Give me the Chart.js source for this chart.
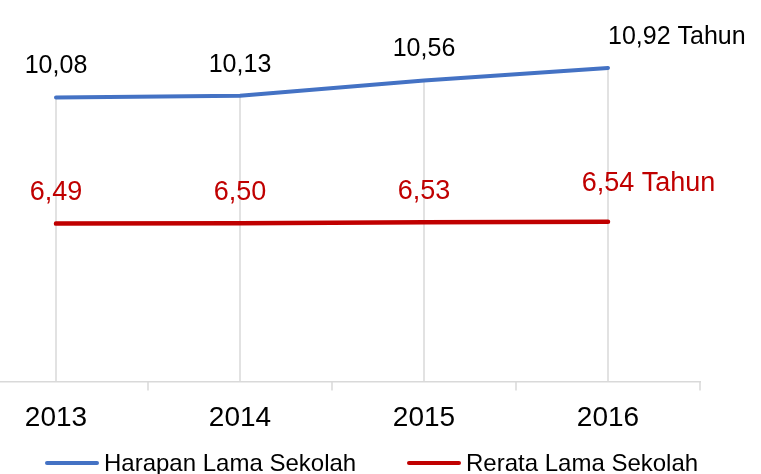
<!DOCTYPE html>
<html>
<head>
<meta charset="utf-8">
<script src="https://cdn.jsdelivr.net/npm/chart.js@4.4.1/dist/chart.umd.min.js"></script>
<style>
  html, body { margin: 0; padding: 0; background: #fff; overflow: hidden; }
  body { width: 761px; height: 474px; position: relative; font-family: "Liberation Sans", Arial, sans-serif; }
  #wrap { position: absolute; left: -36px; top: 0; width: 797px; height: 474px; }
  .leg { position: absolute; top: 449px; font-size: 24px; line-height: 28px; color: #000; white-space: nowrap; }
  .leg span { display: inline-block; width: 54px; height: 4px; border-radius: 2px; vertical-align: middle; margin-right: 5px; position: relative; top: -2px; }
</style>
</head>
<body>
<div id="wrap"><canvas id="chart"></canvas></div>
<div class="leg" style="left:45px"><span style="background:#4472C4"></span>Harapan Lama Sekolah</div>
<div class="leg" style="left:407px"><span style="background:#C00000"></span>Rerata Lama Sekolah</div>
<script>
const years = ["2013", "2014", "2015", "2016"];
const harapanLama = [10.08, 10.13, 10.56, 10.92];
const rerataLama = [6.49, 6.50, 6.53, 6.54];
const unitSuffix = " Tahun";

const FONT = '"Liberation Sans", Arial, sans-serif';
const fmt = v => v.toFixed(2).replace(".", ",");

// drop lines from the top series down to the axis
const dropLines = {
  id: "dropLines",
  beforeDatasetsDraw(chart) {
    const { ctx, chartArea } = chart;
    const meta = chart.getDatasetMeta(0);
    ctx.save();
    ctx.strokeStyle = "#d9d9d9";
    ctx.lineWidth = 1.5;
    meta.data.forEach(pt => {
      ctx.beginPath();
      ctx.moveTo(pt.x, pt.y);
      ctx.lineTo(pt.x, chartArea.bottom);
      ctx.stroke();
    });
    ctx.restore();
  }
};

// tick marks between categories, below the axis
const boundaryTicks = {
  id: "boundaryTicks",
  afterDraw(chart) {
    const { ctx, chartArea } = chart;
    const x = chart.scales.x;
    const step = x.getPixelForValue(1) - x.getPixelForValue(0);
    ctx.save();
    ctx.strokeStyle = "#d9d9d9";
    ctx.lineWidth = 1.5;
    for (let i = 0; i < years.length; i++) {
      const px = x.getPixelForValue(i) + step / 2;
      ctx.beginPath();
      ctx.moveTo(px, chartArea.bottom);
      ctx.lineTo(px, chartArea.bottom + 9);
      ctx.stroke();
    }
    ctx.restore();
  }
};

// value labels above each point
const valueLabels = {
  id: "valueLabels",
  afterDatasetsDraw(chart) {
    const { ctx } = chart;
    ctx.save();
    ctx.textBaseline = "middle";
    chart.data.datasets.forEach((ds, di) => {
      const meta = chart.getDatasetMeta(di);
      ctx.font = ds.labelSize + "px " + FONT;
      ctx.fillStyle = ds.labelColor;
      meta.data.forEach((pt, i) => {
        const txt = fmt(ds.data[i]);
        const last = i === ds.data.length - 1;
        const y = pt.y - 31 - (last && di === 1 ? 7 : 0);
        if (!last) {
          ctx.textAlign = "center";
          ctx.fillText(txt, pt.x, y);
        } else {
          ctx.textAlign = "left";
          const left = di === 0 ? pt.x : pt.x - ctx.measureText(txt).width / 2;
          ctx.fillText(txt + unitSuffix, left, y);
        }
      });
    });
    ctx.restore();
  }
};

new Chart(document.getElementById("chart"), {
  type: "line",
  data: {
    labels: years,
    datasets: [
      {
        label: "Harapan Lama Sekolah",
        data: harapanLama,
        borderColor: "#4472C4",
        borderWidth: 4,
        borderCapStyle: "round",
        pointRadius: 0,
        tension: 0,
        labelColor: "#000000",
        labelSize: 25
      },
      {
        label: "Rerata Lama Sekolah",
        data: rerataLama,
        borderColor: "#C00000",
        borderWidth: 4.5,
        borderCapStyle: "round",
        pointRadius: 0,
        tension: 0,
        labelColor: "#C00000",
        labelSize: 27
      }
    ]
  },
  options: {
    responsive: true,
    maintainAspectRatio: false,
    animation: false,
    layout: { padding: { top: 30, right: 61, bottom: 19, left: 0 } },
    plugins: {
      legend: { display: false },
      tooltip: { enabled: false }
    },
    scales: {
      x: {
        offset: true,
        grid: { display: false, drawTicks: false },
        border: { display: true, color: "#d9d9d9", width: 1.5 },
        ticks: { color: "#000", padding: 20, font: { family: FONT, size: 28 } }
      },
      y: {
        display: false,
        min: 2,
        max: 12
      }
    }
  },
  plugins: [dropLines, boundaryTicks, valueLabels]
});
</script>
</body>
</html>
